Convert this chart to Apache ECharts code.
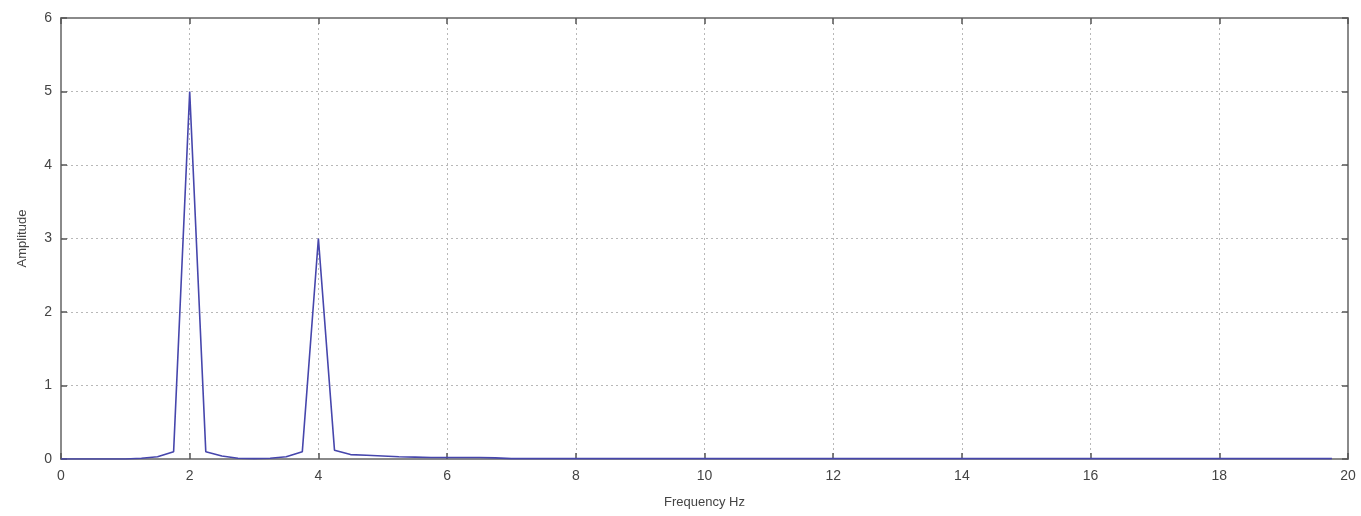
<!DOCTYPE html>
<html>
<head>
<meta charset="utf-8">
<script src="https://cdn.jsdelivr.net/npm/echarts@6/dist/echarts.min.js"></script>
<style>
  html, body { margin: 0; padding: 0; background: #fff; }
  #chart { width: 1361px; height: 516px; }
</style>
</head>
<body>
<div id="chart"></div>
<script>
// Spectrum sampled every 0.25 Hz, from 0 to 19.75 Hz
const freqStep = 0.25;
const amplitudes = [
  0, 0, 0, 0, 0, 0.01, 0.03, 0.1,          // 0 .. 1.75
  5.0, 0.1, 0.04, 0.01, 0.005, 0.01, 0.03, 0.1, // 2 .. 3.75
  3.0, 0.12, 0.06, 0.05, 0.04, 0.03, 0.025, 0.02, // 4 .. 5.75
  0.02, 0.02, 0.02, 0.015, 0.005, 0.005, 0.005, 0.005, // 6 .. 7.75
  0.005, 0.005, 0.005, 0.005, 0.005, 0.005, 0.005, 0.005, // 8 .. 9.75
  0.005, 0.005, 0.005, 0.005, 0.005, 0.005, 0.005, 0.005, // 10 .. 11.75
  0.005, 0.005, 0.005, 0.005, 0.005, 0.005, 0.005, 0.005, // 12 .. 13.75
  0.005, 0.005, 0.005, 0.005, 0.005, 0.005, 0.005, 0.005, // 14 .. 15.75
  0.005, 0.005, 0.005, 0.005, 0.005, 0.005, 0.005, 0.005, // 16 .. 17.75
  0.005, 0.005, 0.005, 0.005, 0.005, 0.005, 0.005, 0.005  // 18 .. 19.75
];
const xTicks = { min: 0, max: 20, interval: 2 };
const yTicks = { min: 0, max: 6, interval: 1 };
const xTitle = 'Frequency Hz';
const yTitle = 'Amplitude';

const points = amplitudes.map((a, i) => [i * freqStep, a]);

const axisGray = '#8a8a8a';
const labelStyle = { color: '#444', fontFamily: 'Liberation Sans', fontSize: 14 };
const titleStyle = { color: '#444', fontFamily: 'Liberation Sans', fontSize: 13 };
const gridLine = { show: true, lineStyle: { color: '#b8b8b8', type: [2, 3], width: 1 } };
const tickStyle = { show: true, inside: true, length: 6, lineStyle: { color: '#555', width: 1.5 } };
const boxLine = { show: true, onZero: false, lineStyle: { color: axisGray, width: 2 } };

const chart = echarts.init(document.getElementById('chart'), null, { renderer: 'canvas' });
chart.setOption({
  animation: false,
  backgroundColor: '#fff',
  grid: { left: 61, right: 13, top: 18, bottom: 57, containLabel: false },
  xAxis: [
    {
      type: 'value', position: 'bottom', ...xTicks,
      name: xTitle, nameLocation: 'middle', nameGap: 37,
      nameTextStyle: titleStyle,
      axisLine: boxLine,
      axisTick: tickStyle,
      axisLabel: { ...labelStyle, margin: 10 },
      splitLine: gridLine
    },
    {
      type: 'value', position: 'top', ...xTicks,
      axisLine: boxLine,
      axisTick: tickStyle,
      axisLabel: { show: false },
      splitLine: { show: false }
    }
  ],
  yAxis: [
    {
      type: 'value', position: 'left', ...yTicks,
      name: yTitle, nameLocation: 'middle', nameGap: 32, nameRotate: 90,
      nameTextStyle: titleStyle,
      axisLine: boxLine,
      axisTick: tickStyle,
      axisLabel: { ...labelStyle, margin: 9 },
      splitLine: gridLine
    },
    {
      type: 'value', position: 'right', ...yTicks,
      axisLine: boxLine,
      axisTick: tickStyle,
      axisLabel: { show: false },
      splitLine: { show: false }
    }
  ],
  series: [{
    type: 'line',
    data: points,
    xAxisIndex: 0,
    yAxisIndex: 0,
    showSymbol: false,
    symbol: 'none',
    lineStyle: { color: '#4646ac', width: 1.6 },
    z: 5
  }]
});
</script>
</body>
</html>
